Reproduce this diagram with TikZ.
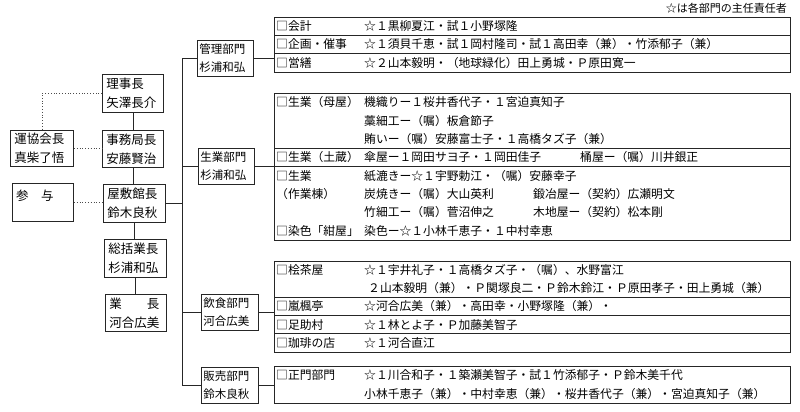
\documentclass[tikz,border=0pt]{standalone}
\usepackage{fontspec}
\setmainfont{Noto Sans CJK JP}
\begin{document}
\begin{tikzpicture}[x=1pt,y=-1pt,
  frame/.style={draw=black!85, line width=0.9pt},
  lbox/.style={frame, anchor=north west, inner xsep=4pt, inner ysep=0pt, align=left, font=\fontsize{12.5}{19}\selectfont},
  dbox/.style={frame, anchor=north west, inner xsep=2pt, inner ysep=0pt, align=left, font=\fontsize{11.5}{18}\selectfont},
  rbox/.style={frame, anchor=north west, inner sep=0pt, minimum width=516pt},
  rt/.style={anchor=west, inner sep=0pt, font=\fontsize{11.8}{14}\selectfont},
  conn/.style={draw=black!85, line width=0.9pt},
  dotline/.style={draw=black!70, line width=0.8pt, dotted},
]
\fill[white] (0,0) rectangle (800,412);
\useasboundingbox (0,0) rectangle (800,412);

% note
\node[anchor=east, inner sep=0pt, font=\fontsize{11}{13}\selectfont] (note) at (787,8) {☆は各部門の主任責任者};

% left column
\node[lbox, text width=53pt, minimum height=38pt] (riji) at (102,74) {理事長\\矢澤長介};
\node[lbox, text width=55pt, minimum height=36pt] (unkyo) at (10,130) {運協会長\\真柴了悟};
\node[lbox, text width=53pt, minimum height=37pt] (jimu) at (102,130) {事務局長\\安藤賢治};
\node[frame, anchor=north west, minimum width=61pt, minimum height=38pt, inner sep=0pt] (sanyo) at (12,183) {};
\node[anchor=west, inner sep=0pt, font=\fontsize{12.5}{19}\selectfont] (sanyoT) at (16,196) {参　与};
\node[lbox, text width=54pt, minimum height=38pt] (kancho) at (103,184) {屋敷館長\\鈴木良秋};
\node[lbox, text width=54pt, minimum height=38pt] (sokatsu) at (104,239) {総括業長\\杉浦和弘};
\node[lbox, text width=53pt, minimum height=37pt] (gyocho) at (105,294) {業　　長\\河合広美};

\draw[conn] (riji.south) -- (riji.south |- jimu.north);
\draw[conn] (jimu.south) -- (jimu.south |- kancho.north);
\draw[conn] (kancho.south) -- (kancho.south |- sokatsu.north);
\draw[conn] (sokatsu.south) -- (sokatsu.south |- gyocho.north);
\draw[dotline] (riji.west) -| (unkyo.north);
\draw[dotline] (unkyo.east) -- (unkyo.east -| jimu.west);
\draw[dotline] (sanyo.east) -- (sanyo.east -| kancho.west);

% departments
\node[dbox, text width=52pt, minimum height=36pt] (kanri) at (197,40) {管理部門\\杉浦和弘};
\node[dbox, text width=52pt, minimum height=36pt] (seigyo) at (198,148) {生業部門\\杉浦和弘};
\node[dbox, text width=53pt, minimum height=36pt] (inshoku) at (201,294) {飲食部門\\河合広美};
\node[dbox, text width=53pt, minimum height=36pt] (hanbai) at (201,367) {販売部門\\鈴木良秋};

\coordinate (tx) at (182,0);
\draw[conn] (kanri.west) -- (kanri.west -| tx) -- (hanbai.west -| tx) -- (hanbai.west);
\draw[conn] (seigyo.west) -- (seigyo.west -| tx);
\draw[conn] (inshoku.west) -- (inshoku.west -| tx);
\draw[conn] (kancho.east) -- (kancho.east -| tx);

% right boxes
\node[rbox, minimum height=55pt] (b1) at (274,17) {};
\node[rbox, minimum height=147pt] (b2) at (274,93) {};
\node[rbox, minimum height=91pt] (b3) at (274,261) {};
\node[rbox, minimum height=37pt] (b4) at (274,366) {};

\draw[conn] (kanri.east) -- (kanri.east -| b1.west);
\draw[conn] (seigyo.east) -- (seigyo.east -| b2.west);
\draw[conn] (inshoku.east) -- (inshoku.east -| b3.west);
\draw[conn] (hanbai.east) -- (hanbai.east -| b4.west);

% dividers
\draw[conn] (274,35.3) -- (790,35.3);
\draw[conn] (274,53.7) -- (790,53.7);
\draw[conn] (274,148.1) -- (790,148.1);
\draw[conn] (274,166.5) -- (790,166.5);
\draw[conn] (274,297.4) -- (790,297.4);
\draw[conn] (274,315.6) -- (790,315.6);
\draw[conn] (274,333.8) -- (790,333.8);

% box 1
\node[rt] (a1) at (276,26.2) {□会計};
\node[rt] (a1c) at (364,26.2) {☆１黒柳夏江・試１小野塚隆};
\node[rt] (a2) at (276,44.5) {□企画・催事};
\node[rt] (a2c) at (364,44.5) {☆１須貝千恵・試１岡村隆司・試１高田幸（兼）・竹添郁子（兼）};
\node[rt] (a3) at (276,62.8) {□営繕};
\node[rt] (a3c) at (364,62.8) {☆２山本毅明・（地球緑化）田上勇城・Ｐ原田寛一};

% box 2
\node[rt] (s1) at (276,102.2) {□生業（母屋）};
\node[rt] (s1c) at (364,102.2) {機織りー１桜井香代子・１宮迫真知子};
\node[rt] (s2c) at (364,120.6) {藁細工ー（嘱）板倉節子};
\node[rt] (s3c) at (364,138.9) {賄いー（嘱）安藤富士子・１高橋タズ子（兼）};
\node[rt] (s4) at (276,157.3) {□生業（土蔵）};
\node[rt] (s4c) at (364,157.3) {傘屋ー１岡田サヨ子・１岡田佳子};
\node[rt] (s4d) at (580,157.3) {桶屋ー（嘱）川井銀正};
\node[rt] (s5) at (276,175.7) {□生業};
\node[rt] (s5c) at (364,175.7) {紙漉きー☆１宇野勅江・（嘱）安藤幸子};
\node[rt] (s6) at (276,194.1) {（作業棟）};
\node[rt] (s6c) at (364,194.1) {炭焼きー（嘱）大山英利};
\node[rt] (s6d) at (533,194.1) {鍛冶屋ー（契約）広瀬明文};
\node[rt] (s7c) at (364,212.4) {竹細工ー（嘱）菅沼伸之};
\node[rt] (s7d) at (533,212.4) {木地屋ー（契約）松本剛};
\node[rt] (s8) at (276,230.8) {□染色「紺屋」};
\node[rt] (s8c) at (364,230.8) {染色ー☆１小林千恵子・１中村幸恵};

% box 3
\node[rt] (i1) at (276,270.1) {□桧茶屋};
\node[rt] (i1c) at (364,270.1) {☆１宇井礼子・１高橋タズ子・（嘱）、水野富江};
\node[rt] (i2c) at (368,288.3) {２山本毅明（兼）・Ｐ関塚良二・Ｐ鈴木鈴江・Ｐ原田孝子・田上勇城（兼）};
\node[rt] (i3) at (276,306.5) {□嵐楓亭};
\node[rt] (i3c) at (364,306.5) {☆河合広美（兼）・高田幸・小野塚隆（兼）・};
\node[rt] (i4) at (276,324.7) {□足助村};
\node[rt] (i4c) at (364,324.7) {☆１林とよ子・Ｐ加藤美智子};
\node[rt] (i5) at (276,342.9) {□珈琲の店};
\node[rt] (i5c) at (364,342.9) {☆１河合直江};

% box 4
\node[rt] (h1) at (276,375.3) {□正門部門};
\node[rt] (h1c) at (364,375.3) {☆１川合和子・１築瀬美智子・試１竹添郁子・Ｐ鈴木美千代};
\node[rt] (h2c) at (364,393.8) {小林千恵子（兼）・中村幸恵（兼）・桜井香代子（兼）・宮迫真知子（兼）};
\end{tikzpicture}
\end{document}
